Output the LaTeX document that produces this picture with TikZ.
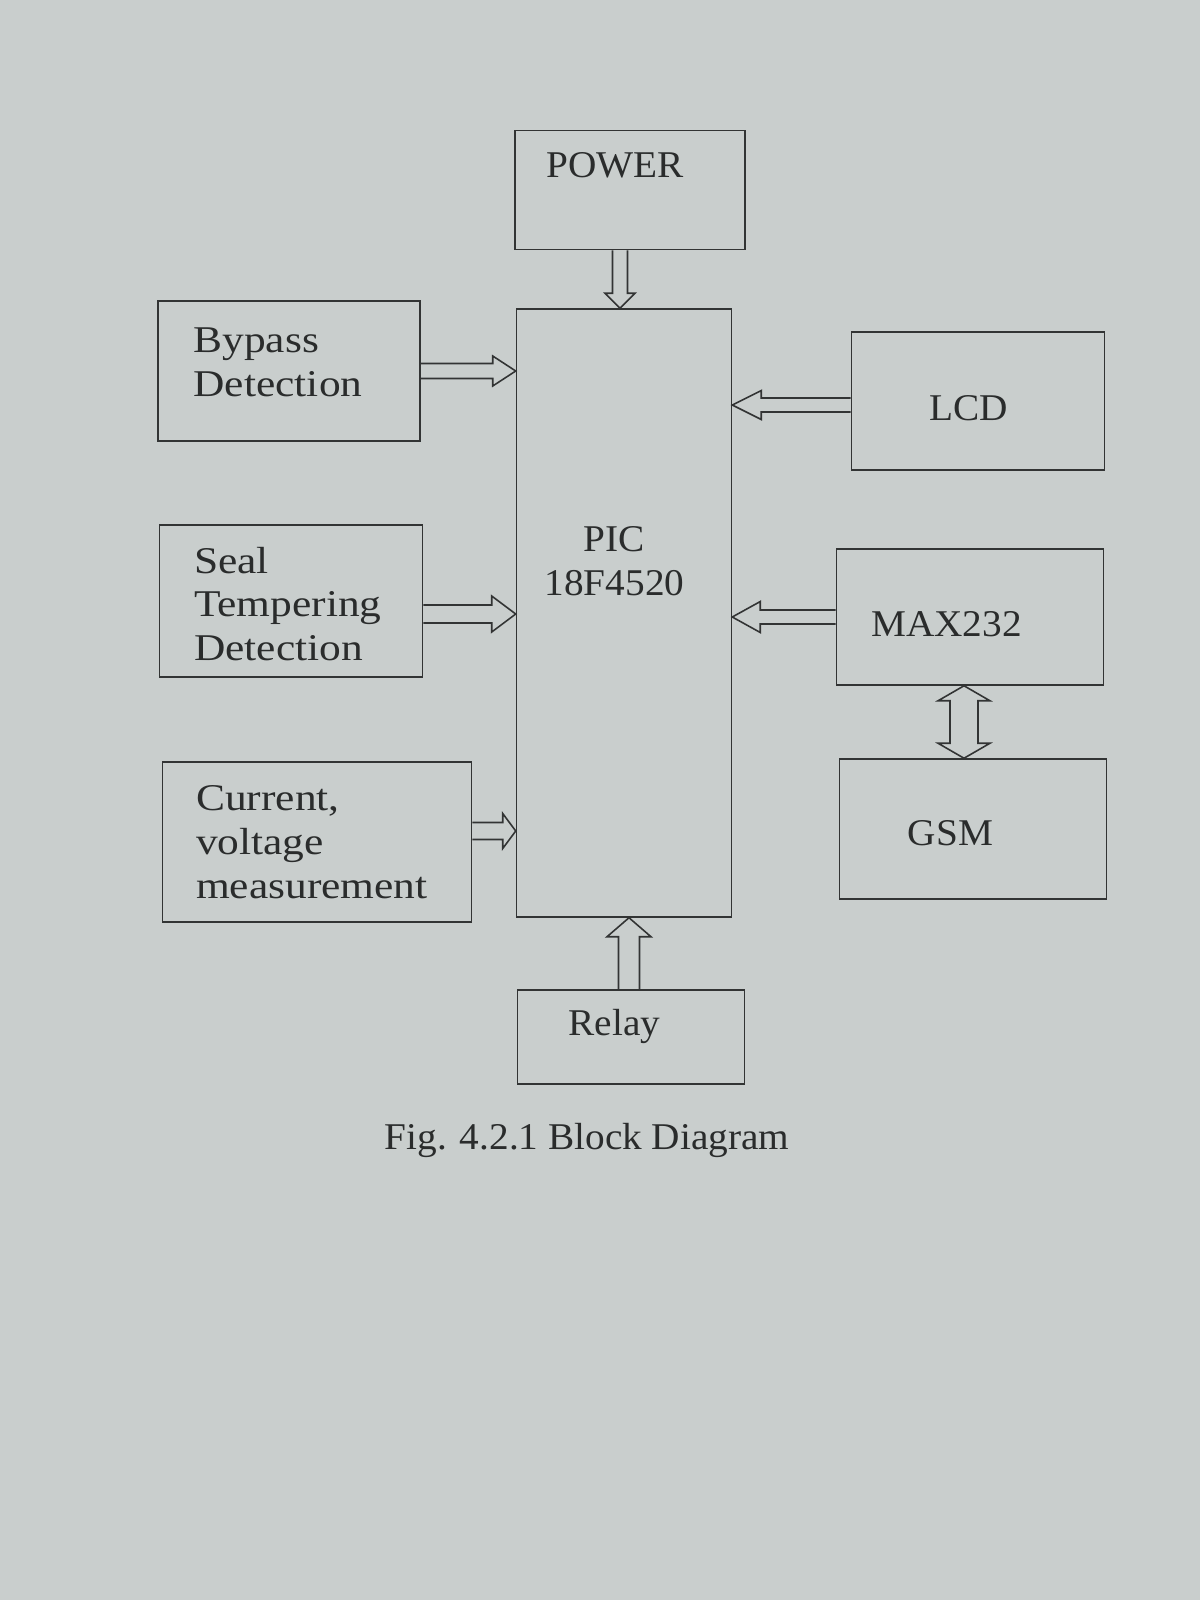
\documentclass[tikz,border=0pt]{standalone}
\usepackage{fontspec}
\setmainfont{Liberation Serif}[FakeStretch=1.04]
\newfontfamily\leftfont{Liberation Serif}[FakeStretch=1.15]
\usetikzlibrary{calc,positioning}

\definecolor{paper}{RGB}{201,206,205}
\definecolor{linegray}{RGB}{50,52,52}
\definecolor{inkgray}{RGB}{42,44,44}

\tikzset{
  box/.style={draw=linegray, line width=0.9pt, rectangle, inner sep=0pt},
  lbl/.style={text=inkgray, font=\fontsize{21.5}{25}\selectfont, inner sep=0pt},
  leftlbl/.style={lbl, font=\leftfont\fontsize{21.5}{25}\selectfont, align=left, anchor=west},
  blockarr/.style={draw=linegray, line width=0.9pt, line join=miter}
}

% hollow block arrow: tail, tip, half shaft, half head, head length
\newcommand{\blockarrow}[5]{%
  \draw[blockarr] let \p1=(#1), \p2=(#2),
      \n1={atan2(\y2-\y1,\x2-\x1)}, \n2={veclen(\x2-\x1,\y2-\y1)-#5} in
    ($(\p1)+(\n1+90:#3)$) -- ($(\p1)+(\n1:\n2)+(\n1+90:#3)$)
    -- ($(\p1)+(\n1:\n2)+(\n1+90:#4)$) -- (\p2)
    -- ($(\p1)+(\n1:\n2)+(\n1-90:#4)$) -- ($(\p1)+(\n1:\n2)+(\n1-90:#3)$)
    -- ($(\p1)+(\n1-90:#3)$);}

\begin{document}
\begin{tikzpicture}[x=0.02cm, y=-0.02cm]
        % Page
        \fill[paper] (0,0) rectangle (1200,1600);
        \useasboundingbox (0,0) rectangle (1200,1600);

        % Middle column
        \node[box, minimum width=4.6cm, minimum height=2.38cm,
          label={[lbl, xshift=-0.3cm, yshift=0.49cm]center:POWER}] (power) at (630,190) {};
        \node[box, minimum width=4.3cm, minimum height=12.16cm,
          label={[lbl, align=center, xshift=-0.19cm, yshift=1.04cm]center:{PIC\\18F4520}}] (pic) at (624,613) {};
        \node[box, minimum width=4.54cm, minimum height=1.88cm,
          label={[lbl, xshift=-0.33cm, yshift=0.22cm]center:Relay}] (relay) at (631,1037) {};

        % Left column
        \node[box, minimum width=5.24cm, minimum height=2.8cm,
          label={[leftlbl, xshift=0.72cm, yshift=0.18cm]west:{Bypass\\Detection}}] (bypass) at (289,371) {};
        \node[box, minimum width=5.26cm, minimum height=3.04cm,
          label={[leftlbl, xshift=0.7cm, yshift=-0.06cm]west:{Seal\\Tempering\\Detection}}] (seal) at (291,601) {};
        \node[box, minimum width=6.18cm, minimum height=3.2cm,
          label={[leftlbl, xshift=0.68cm]west:{Current,\\voltage\\measurement}}] (current) at (317,842) {};

        % Right column
        \node[box, minimum width=5.06cm, minimum height=2.76cm,
          label={[lbl, xshift=-0.19cm, yshift=-0.14cm]center:LCD}] (lcd) at (978,401) {};
        \node[box, minimum width=5.34cm, minimum height=2.72cm,
          label={[lbl, xshift=-0.47cm, yshift=-0.14cm]center:MAX232}] (max) at (970,617) {};
        \node[box, minimum width=5.34cm, minimum height=2.8cm,
          label={[lbl, xshift=-0.45cm, yshift=-0.08cm]center:GSM}] (gsm) at (973,829) {};

        % Caption
        \node[lbl] (caption) at (587,1140) {Fig. 4.2.1 Block Diagram};

        % Arrow ends
        \coordinate (pwrout) at ($(power.south)+(-10,0)$);
        \coordinate (sealout) at ($(seal.east)+(0,13)$);
        \coordinate (curout) at ($(current.east)+(0,-11)$);
        \coordinate (lcdout) at ($(lcd.west)+(0,4)$);
        \coordinate (relayout) at ($(relay.north)+(-2,0)$);
        \coordinate (maxout) at ($(max.south)+(-6,0)$);

        % Inputs to the PIC
        \blockarrow{pwrout}{pwrout |- pic.north}{0.15cm}{0.30cm}{0.30cm}
        \blockarrow{bypass.east}{pic.west |- bypass.east}{0.15cm}{0.30cm}{0.46cm}
        \blockarrow{sealout}{pic.west |- sealout}{0.18cm}{0.36cm}{0.48cm}
        \blockarrow{curout}{pic.west |- curout}{0.17cm}{0.35cm}{0.26cm}
        \blockarrow{lcdout}{pic.east |- lcdout}{0.14cm}{0.29cm}{0.58cm}
        \blockarrow{max.west}{pic.east |- max.west}{0.14cm}{0.31cm}{0.56cm}
        \blockarrow{relayout}{relayout |- pic.south}{0.21cm}{0.44cm}{0.38cm}

        % MAX232 <-> GSM
        \draw[blockarr] let \p1=(maxout), \p2=(maxout |- gsm.north) in
          (\x1,\y1) -- ({\x1+0.52cm},{\y1-0.3cm}) -- ({\x1+0.28cm},{\y1-0.3cm})
          -- ({\x1+0.28cm},{\y2+0.3cm}) -- ({\x1+0.52cm},{\y2+0.3cm}) -- (\x1,\y2)
          -- ({\x1-0.52cm},{\y2+0.3cm}) -- ({\x1-0.28cm},{\y2+0.3cm})
          -- ({\x1-0.28cm},{\y1-0.3cm}) -- ({\x1-0.52cm},{\y1-0.3cm}) -- cycle;
\end{tikzpicture}
\end{document}
